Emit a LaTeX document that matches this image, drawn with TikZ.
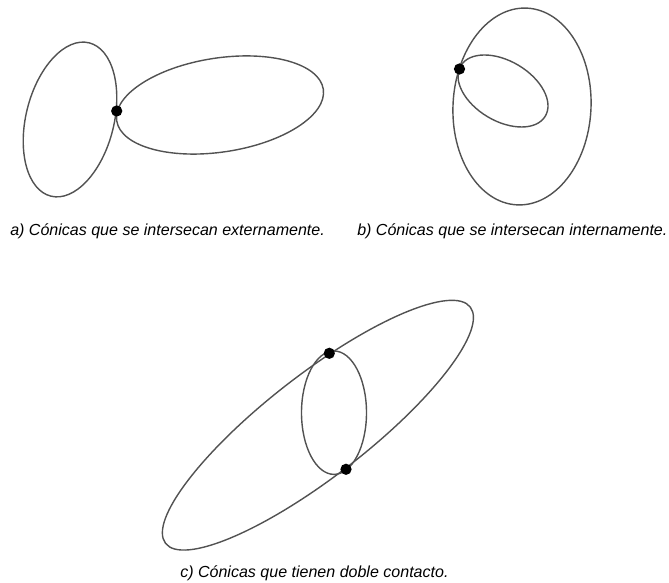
\documentclass[tikz,border=0pt]{standalone}
\usepackage{fontspec}
\setmainfont{Liberation Sans}
\usepackage{tikz}
\tikzset{
  conica/.style={draw=black!68, line width=1pt},
  contacto/.style={circle, fill=black, inner sep=0pt, minimum size=8pt},
  rotulo/.style={anchor=base west, inner sep=0pt, font=\fontsize{11.4}{13}\selectfont\itshape}
}

\begin{document}
\begin{tikzpicture}[x=0.025cm, y=0.025cm]
\useasboundingbox (0,0) rectangle (669,583);
% a) externas
\draw[conica, shift={(70,463.5)}, rotate=76] (0,0) ellipse [x radius=79, y radius=44];
\draw[conica, shift={(220,478)}, rotate=8.7] (0,0) ellipse [x radius=104.5, y radius=47];
\node[contacto] (pa) at (116.7,472) {};
\node[rotulo] (ra) at (10,347.5) {a) Cónicas que se intersecan externamente.};
% b) internas
\draw[conica, shift={(522,476.5)}, rotate=-3] (0,0) ellipse [x radius=69, y radius=98.5];
\draw[conica, shift={(503,492)}, rotate=-30.7] (0,0) ellipse [x radius=49.2, y radius=30];
\node[contacto] (pb) at (459.5,514) {};
\node[rotulo] (rb) at (357,347.5) {b) Cónicas que se intersecan internamente.};
% c) doble contacto
\draw[conica, shift={(317.9,157.8)}, rotate=37.8] (0,0) ellipse [x radius=192.8, y radius=51];
\draw[conica] (334,170.3) ellipse [x radius=32.5, y radius=61.7];
\node[contacto] (pc1) at (329.3,229.7) {};
\node[contacto] (pc2) at (346,113.7) {};
\node[rotulo] (rc) at (180,5.5) {c) Cónicas que tienen doble contacto.};
\end{tikzpicture}
\end{document}
